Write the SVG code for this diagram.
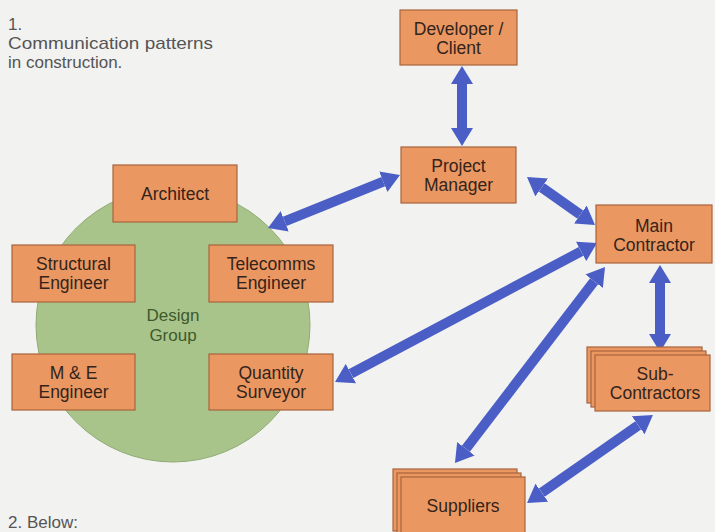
<svg xmlns="http://www.w3.org/2000/svg" width="715" height="532" viewBox="0 0 715 532">
  <defs>
    <marker id="ah" viewBox="0 -11 18 22" refX="0" refY="0" markerWidth="18" markerHeight="22" markerUnits="userSpaceOnUse" orient="auto-start-reverse">
      <path d="M0,-11 L18,0 L0,11 Z" fill="#4b5ec5"/>
    </marker>
  </defs>
  <style>
    .box { fill: #eb9762; stroke: #a8643c; stroke-width: 1.2; }
    .lbl { font-family: "Liberation Sans", Arial, sans-serif; font-size: 17.5px; fill: #33241a; text-anchor: middle; }
    .cap { font-family: "Liberation Sans", Arial, sans-serif; font-size: 17px; fill: #555555; }
    .grp { font-family: "Liberation Sans", Arial, sans-serif; font-size: 17px; fill: #3d5a2c; text-anchor: middle; }
    .arr { stroke: #4b5ec5; stroke-width: 10; fill: none; marker-start: url(#ah); marker-end: url(#ah); }
  </style>
  <rect x="0" y="0" width="715" height="532" fill="#f2f2f0"/>

  <g id="caption">
    <text class="cap" x="8" y="30">1.</text>
    <text class="cap" x="8" y="49" textLength="205" lengthAdjust="spacingAndGlyphs">Communication patterns</text>
    <text class="cap" x="8" y="68">in construction.</text>
    <text class="cap" x="8" y="528">2. Below:</text>
  </g>

  <g id="design-group">
    <circle cx="173" cy="325" r="137" fill="#a9c48b" stroke="#8fab72" stroke-width="1"/>
    <text class="grp" x="173" y="321">Design</text>
    <text class="grp" x="173" y="341">Group</text>
  </g>

  <g id="connectors">
    <line class="arr" x1="462" y1="84" x2="462" y2="128"/>
    <line class="arr" x1="383.3" y1="181.7" x2="284.7" y2="221.3"/>
    <line class="arr" x1="541.7" y1="187.4" x2="580.3" y2="214.6"/>
    <line class="arr" x1="581.1" y1="251.4" x2="350.9" y2="373.6"/>
    <line class="arr" x1="594.1" y1="281.3" x2="465.9" y2="448.7"/>
    <line class="arr" x1="660" y1="283" x2="660" y2="334"/>
    <line class="arr" x1="638.2" y1="425.3" x2="541.8" y2="492.7"/>
  </g>

  <g id="developer-client">
    <rect class="box" x="400" y="10" width="117" height="55"/>
    <text class="lbl" x="458.5" y="34.5">Developer /</text>
    <text class="lbl" x="458.5" y="53.5">Client</text>
  </g>

  <g id="project-manager">
    <rect class="box" x="401" y="147" width="115" height="56"/>
    <text class="lbl" x="458.5" y="172">Project</text>
    <text class="lbl" x="458.5" y="191">Manager</text>
  </g>

  <g id="architect">
    <rect class="box" x="113" y="165" width="124" height="57"/>
    <text class="lbl" x="175" y="200">Architect</text>
  </g>

  <g id="structural-engineer">
    <rect class="box" x="12" y="245" width="123" height="57"/>
    <text class="lbl" x="73.5" y="270">Structural</text>
    <text class="lbl" x="73.5" y="289">Engineer</text>
  </g>

  <g id="telecomms-engineer">
    <rect class="box" x="209" y="245" width="124" height="57"/>
    <text class="lbl" x="271" y="270">Telecomms</text>
    <text class="lbl" x="271" y="289">Engineer</text>
  </g>

  <g id="me-engineer">
    <rect class="box" x="12" y="354" width="123" height="56"/>
    <text class="lbl" x="73.5" y="379">M &amp; E</text>
    <text class="lbl" x="73.5" y="398">Engineer</text>
  </g>

  <g id="quantity-surveyor">
    <rect class="box" x="209" y="354" width="124" height="56"/>
    <text class="lbl" x="271" y="379">Quantity</text>
    <text class="lbl" x="271" y="398">Surveyor</text>
  </g>

  <g id="main-contractor">
    <rect class="box" x="596" y="205" width="116" height="58"/>
    <text class="lbl" x="654" y="232">Main</text>
    <text class="lbl" x="654" y="251">Contractor</text>
  </g>

  <g id="sub-contractors">
    <rect class="box" x="587" y="347" width="115" height="56"/>
    <rect class="box" x="591" y="351" width="115" height="56"/>
    <rect class="box" x="595" y="355" width="115" height="56"/>
    <text class="lbl" x="655" y="380">Sub-</text>
    <text class="lbl" x="655" y="399">Contractors</text>
  </g>

  <g id="suppliers">
    <rect class="box" x="393" y="469" width="124" height="62"/>
    <rect class="box" x="397" y="473" width="124" height="62"/>
    <rect class="box" x="401" y="477" width="124" height="62"/>
    <text class="lbl" x="463" y="512">Suppliers</text>
  </g>
</svg>
